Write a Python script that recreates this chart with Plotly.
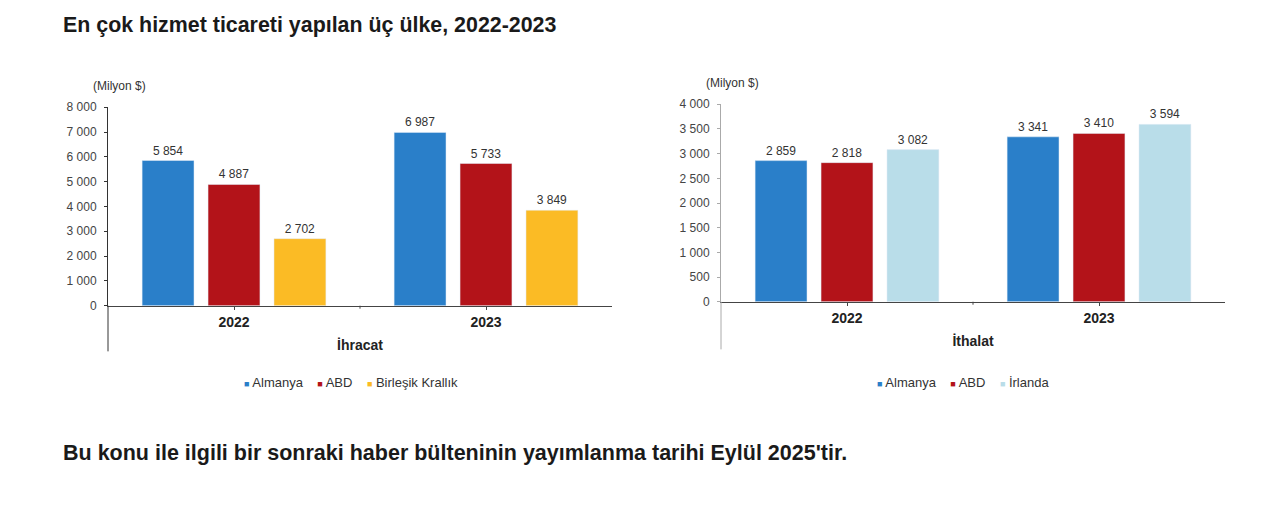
import plotly.graph_objects as go

# Data (Milyon $)
years = ["2022", "2023"]

exp_countries = ["Almanya", "ABD", "Birleşik Krallık"]
exp_values = [
    [5854, 6987],   # Almanya
    [4887, 5733],   # ABD
    [2702, 3849],   # Birleşik Krallık
]
exp_colors = ["#2a7fc9", "#b31319", "#fbbb25"]

imp_countries = ["Almanya", "ABD", "İrlanda"]
imp_values = [
    [2859, 3341],   # Almanya
    [2818, 3410],   # ABD
    [3082, 3594],   # İrlanda
]
imp_colors = ["#2a7fc9", "#b31319", "#b9dde9"]

W, H = 1280, 506
FONT = "Liberation Sans, Arial, sans-serif"


# page pixel -> paper fraction (the page puts the figure slightly offset/squeezed)
def px_x(x):
    return (x - 8) / W


def px_y(y):
    return (H - (y - 13) / 0.98) / H


fig = go.Figure()

for name, vals, col in zip(exp_countries, exp_values, exp_colors):
    fig.add_trace(go.Bar(x=years, y=vals, name=name, marker_color=col,
                         texttemplate="%{y:,}", textposition="outside",
                         textfont=dict(size=12, color="#333"), cliponaxis=False,
                         showlegend=False, xaxis="x", yaxis="y"))

for name, vals, col in zip(imp_countries, imp_values, imp_colors):
    fig.add_trace(go.Bar(x=years, y=vals, name=name, marker_color=col,
                         texttemplate="%{y:,}", textposition="outside",
                         textfont=dict(size=12, color="#333"), cliponaxis=False,
                         showlegend=False, xaxis="x2", yaxis="y2"))

cat_axis = dict(type="category", showline=True, linecolor="#444", linewidth=1,
                ticks="outside", ticklen=3, tickcolor="#444",
                tickfont=dict(size=14, color="#222", weight="bold"),
                title_font=dict(size=14, color="#222", weight="bold"),
                title_standoff=11, showgrid=False, zeroline=False)
val_axis = dict(showline=True, linewidth=1, ticks="outside", ticklen=3,
                tickformat=",", tickfont=dict(size=12, color="#444"),
                showgrid=False, zeroline=False, ticklabelstandoff=5)

fig.update_layout(
    width=W, height=H, margin=dict(l=0, r=0, t=0, b=0),
    paper_bgcolor="white", plot_bgcolor="white",
    font=dict(family=FONT, color="#222"),
    separators=", ",
    barmode="group", bargap=0.215, bargroupgap=0.213,
    xaxis=dict(cat_axis, domain=[px_x(108), px_x(612)], anchor="y", title_text="İhracat"),
    yaxis=dict(val_axis, domain=[px_y(306), px_y(106)], anchor="x",
               range=[0, 8000], dtick=1000, linecolor="#333", tickcolor="#333"),
    xaxis2=dict(cat_axis, domain=[px_x(721), px_x(1225)], anchor="y2", title_text="İthalat"),
    yaxis2=dict(val_axis, domain=[px_y(302), px_y(103)], anchor="x2",
                range=[0, 4000], dtick=500, linecolor="#aaa", tickcolor="#aaa"),
)

# y-axis lines continue below the category labels
fig.add_shape(type="line", xref="paper", yref="paper", x0=px_x(108), x1=px_x(108),
              y0=px_y(306), y1=px_y(352), line=dict(color="#333", width=1))
fig.add_shape(type="line", xref="paper", yref="paper", x0=px_x(721), x1=px_x(721),
              y0=px_y(302), y1=px_y(350), line=dict(color="#aaa", width=1))
# tick between the two year groups
for xr, yr, ylen in [("x", "y domain", 200), ("x2", "y2 domain", 199)]:
    fig.add_shape(type="line", xref=xr, yref=yr, x0=0.5, x1=0.5, y0=0, y1=-3 / ylen,
                  line=dict(color="#444", width=1))


def legend_text(names, colors):
    parts = [f"<span style='color:{c};font-size:9px'>■</span> {n}" for n, c in zip(names, colors)]
    return "&nbsp;&nbsp;&nbsp;&nbsp;".join(parts)


annotations = [
    dict(text="<b>En çok hizmet ticareti yapılan üç ülke, 2022-2023</b>", x=px_x(61), y=px_y(23),
         xanchor="left", yanchor="middle", font=dict(size=21.4, color="#1a1a1a")),
    dict(text="<b>Bu konu ile ilgili bir sonraki haber bülteninin yayımlanma tarihi Eylül 2025'tir.</b>",
         x=px_x(61), y=px_y(454), xanchor="left", yanchor="middle",
         font=dict(size=21.5, color="#1a1a1a")),
    dict(text="(Milyon $)", x=px_x(91), y=px_y(85), xanchor="left", yanchor="middle",
         font=dict(size=12, color="#333")),
    dict(text="(Milyon $)", x=px_x(704), y=px_y(82), xanchor="left", yanchor="middle",
         font=dict(size=12, color="#333")),
    dict(text=legend_text(exp_countries, exp_colors), x=px_x(351), y=px_y(383),
         xanchor="center", yanchor="middle", font=dict(size=13, color="#333")),
    dict(text=legend_text(imp_countries, imp_colors), x=px_x(963), y=px_y(383),
         xanchor="center", yanchor="middle", font=dict(size=13, color="#333")),
]
for a in annotations:
    a.update(xref="paper", yref="paper", showarrow=False)
fig.update_layout(annotations=annotations)

fig.write_html("out.html")
